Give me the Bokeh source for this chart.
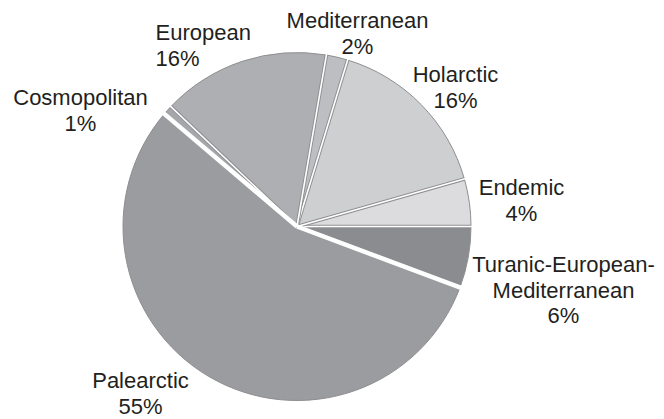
import math
from bokeh.plotting import figure
from bokeh.models import Range1d, ColumnDataSource
from bokeh.core.properties import value
from bokeh.embed import file_html
from bokeh.resources import INLINE

# Data (counter-clockwise from 3 o'clock)
categories = ["Endemic", "Holarctic", "Mediterranean", "European",
              "Cosmopolitan", "Palearctic", "Turanic-European-Mediterranean"]
shares = [4.4, 15.9, 2.0, 15.6, 0.9, 55.5, 5.7]
pct_labels = ["4%", "16%", "2%", "16%", "1%", "55%", "6%"]
name_lines = [["Endemic"], ["Holarctic"], ["Mediterranean"], ["European"],
              ["Cosmopolitan"], ["Palearctic"], ["Turanic-European-", "Mediterranean"]]
colors = ["#dcdcde", "#cecfd1", "#bdbec1", "#aeafb2", "#a6a7aa", "#9b9c9f", "#8b8c90"]

W, H = 664, 419
def Y(ypx):
    return H - ypx

CX, CY, R = 296.5, Y(226), 174

p = figure(width=W, height=H, x_range=Range1d(0, W), y_range=Range1d(0, H),
           min_border=0, outline_line_color=None, toolbar_location=None,
           output_backend="svg", background_fill_color="white")
p.axis.visible = False
p.grid.visible = False

total = sum(shares)
starts, ends = [], []
acc = 0.0
for s in shares:
    starts.append(2 * math.pi * acc / total)
    acc += s
    ends.append(2 * math.pi * acc / total)

src = ColumnDataSource(dict(start=starts, end=ends, color=colors, cat=categories))
p.wedge(x=CX, y=CY, radius=R, start_angle="start", end_angle="end",
        fill_color="color", line_color="#8e8e91", line_width=1, source=src)

# boundary separators
pal = categories.index("Palearctic")
for i, a in enumerate(starts):
    x1 = CX + R * math.cos(a)
    y1 = CY + R * math.sin(a)
    prev = (i - 1) % len(starts)
    if i == pal or prev == pal:
        p.segment(x0=CX, y0=CY, x1=x1 + 2 * math.cos(a), y1=y1 + 2 * math.sin(a),
                  line_color="white", line_width=4.5)
    else:
        p.segment(x0=CX, y0=CY, x1=x1, y1=y1, line_color="#8e8e91", line_width=3.5)
        p.segment(x0=CX, y0=CY, x1=x1 + 1.5 * math.cos(a), y1=y1 + 1.5 * math.sin(a),
                  line_color="white", line_width=1.6)

# label layout (x, first baseline in px, align)
layout = [(521, 195, "center"), (455, 82, "center"), (357, 28, "center"),
          (155, 40, "left"), (80, 105, "center"), (140, 388, "center"),
          (563, 272, "center")]
LS = 25.5
SHIFT = -8
tx, ty, tt, ta = [], [], [], []
for lines, pct, (lx, ly, al) in zip(name_lines, pct_labels, layout):
    for k, ln in enumerate(lines + [pct]):
        tx.append(lx)
        ty.append(Y(ly + k * LS + SHIFT))
        tt.append(ln)
        ta.append(al)
tsrc = ColumnDataSource(dict(x=tx, y=ty, t=tt, a=ta))
p.text(x="x", y="y", text="t", text_align="a", text_baseline="alphabetic",
       text_font=value("Liberation Sans"), text_font_size="22px",
       text_color="#231f20", source=tsrc)

open("out.html", "w").write(file_html(p, INLINE))
